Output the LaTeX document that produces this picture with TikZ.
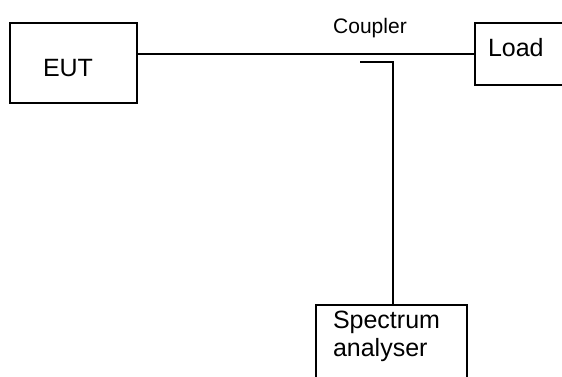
\documentclass[tikz,border=0pt]{standalone}
\usepackage{fontspec}
\setmainfont{Liberation Sans}
\tikzset{unit/.style={draw,line width=2pt,inner sep=0pt,font=\fontsize{25}{28}\selectfont}}
\begin{document}
\begin{tikzpicture}[x=1pt,y=-1pt,line width=2pt]
 \useasboundingbox (0,0) rectangle (562,376);
 \node[unit,minimum width=127pt,minimum height=80pt] (eut) at (73.5,63) {};
 \node[font=\fontsize{25}{28}\selectfont] (eutl) at (68,68) {EUT};
 \node[unit,anchor=north west,minimum width=122pt,minimum height=62pt] (load) at (474,22) {};
 \node[font=\fontsize{25}{28}\selectfont,anchor=west,inner sep=0pt] (loadl) at (487,48) {Load};
 \node[unit,anchor=north west,minimum width=151pt,minimum height=100pt] (sa) at (315,304) {};
 \node[font=\fontsize{25}{28}\selectfont,anchor=north west,align=left,inner sep=0pt] (sal) at (332,310) {Spectrum\\analyser};
 \node[font=\fontsize{21}{24}\selectfont] (cpl) at (370,28) {Coupler};
 \draw (eut.east|-load.west) -- (load.west);
 \coordinate (c0) at (360,62); \coordinate (c1) at (393,62);
 \draw (c0) -- (c1) -- (c1|-sa.north);
\end{tikzpicture}
\end{document}
